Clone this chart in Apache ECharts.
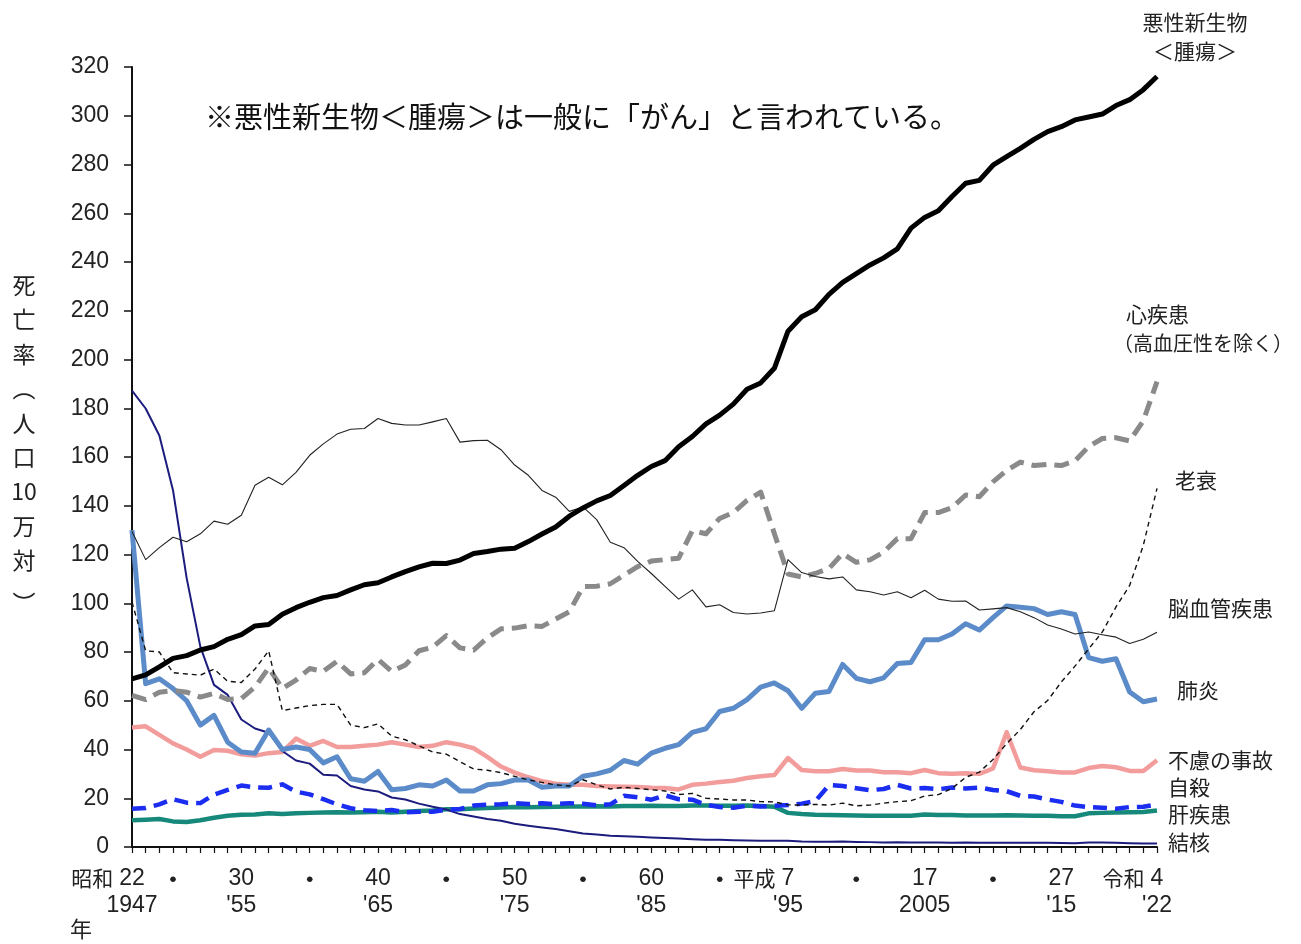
<!DOCTYPE html>
<html>
<head>
<meta charset="utf-8">
<script src="https://cdn.jsdelivr.net/npm/echarts/dist/echarts.min.js"></script>
<style>
html,body{margin:0;padding:0;background:#fff;}
#chart{width:1301px;height:944px;}
</style>
</head>
<body>
<div id="chart"></div>
<script>
// ---- categories ----
const years = [1947,1948,1949,1950,1951,1952,1953,1954,1955,1956,1957,1958,1959,1960,1961,1962,1963,1964,1965,1966,1967,1968,1969,1970,1971,1972,1973,1974,1975,1976,1977,1978,1979,1980,1981,1982,1983,1984,1985,1986,1987,1988,1989,1990,1991,1992,1993,1994,1995,1996,1997,1998,1999,2000,2001,2002,2003,2004,2005,2006,2007,2008,2009,2010,2011,2012,2013,2014,2015,2016,2017,2018,2019,2020,2021,2022];

// ---- tick labels ----
const tickYears   = [1947, 1955, 1965, 1975, 1985, 1995, 2005, 2015, 2022];
const tickEra     = ['昭和', '', '', '', '', '平成', '', '', '令和'];
const tickNum     = ['22', '30', '40', '50', '60', '7', '17', '27', '4'];
const tickWestern = ['1947', "'55", "'65", "'75", "'85", "'95", '2005', "'15", "'22"];
const dotYears    = [1950, 1960, 1970, 1980, 1990, 2000, 2010];

// ---- series values (deaths per 100,000) ----
const malignant = [69.0,70.6,73.9,77.4,78.5,80.8,82.2,85.2,87.1,90.7,91.3,95.5,98.2,100.4,102.3,103.2,105.5,107.6,108.4,110.8,113.0,114.9,116.4,116.3,117.7,120.4,121.2,122.2,122.6,125.3,128.4,131.3,135.7,139.1,142.0,144.2,148.3,152.5,156.1,158.5,164.2,168.4,173.6,177.2,181.7,187.8,190.4,196.4,211.6,217.5,220.4,226.7,231.6,235.2,238.8,241.7,245.4,253.9,258.3,261.0,266.9,272.3,273.5,279.7,283.2,286.6,290.3,293.5,295.5,298.3,299.5,300.7,304.2,306.6,310.7,316.1];

const heart = [62.2,60.5,63.5,64.2,63.5,61.5,63.0,60.5,60.9,65.6,73.5,65.0,68.5,73.2,72.1,76.2,71.0,71.5,77.0,72.0,74.7,80.5,82.0,86.7,81.7,80.8,85.8,89.5,89.8,90.8,90.5,93.5,96.5,106.8,107.0,108.0,111.5,115.0,117.3,117.9,118.5,129.8,128.5,134.8,137.2,142.2,145.6,128.6,112.0,110.8,112.2,114.3,120.4,116.8,117.8,121.0,126.5,126.5,137.2,137.2,139.2,144.4,143.7,149.8,154.5,157.9,156.5,157.0,156.5,158.4,164.3,167.6,167.9,166.6,174.9,190.9];

const senility = [100.5,80.5,80.0,71.5,71.0,70.5,73.0,68.0,67.5,73.0,80.5,56.0,57.0,58.0,58.5,58.5,50.0,49.0,50.5,45.5,44.0,41.5,39.0,38.1,35.0,32.0,31.5,30.5,29.0,27.5,26.5,25.5,25.0,27.6,25.5,23.8,24.5,24.0,23.5,23.0,21.5,22.0,20.0,19.7,19.3,19.3,18.6,18.5,17.3,17.2,17.5,17.2,18.0,16.9,17.2,18.0,18.6,19.0,20.9,21.5,24.0,28.6,30.7,35.9,42.4,48.2,55.5,60.1,67.7,74.2,81.3,88.2,98.5,107.3,123.8,147.1];

const cerebro = [129.4,117.9,122.8,127.1,125.2,128.5,133.7,132.4,136.1,148.4,151.7,148.6,153.7,160.7,165.4,169.4,171.4,171.7,175.8,173.8,173.1,173.1,174.4,175.8,166.1,166.7,166.9,163.0,156.7,152.5,146.3,143.5,137.7,139.5,134.3,125.0,122.8,117.2,112.2,106.9,101.7,105.5,98.5,99.4,96.2,95.6,96.0,96.9,117.9,112.6,111.0,110.0,110.8,105.5,104.7,103.4,104.7,102.3,105.3,101.7,100.8,100.9,97.2,97.7,98.2,96.5,94.1,91.1,89.4,87.4,88.2,87.1,86.1,83.5,85.2,88.1];

const pneumonia = [130.0,67.0,69.0,65.0,60.0,50.0,54.0,43.0,39.0,38.5,48.0,40.0,41.0,40.0,34.5,37.0,28.0,27.0,31.0,23.5,24.0,25.5,25.0,27.5,23.0,23.0,25.5,26.0,27.5,27.5,24.5,25.0,25.0,29.0,30.0,31.5,35.5,34.0,38.5,40.5,42.0,47.0,48.5,55.6,56.9,60.5,65.6,67.3,64.1,56.9,63.1,63.8,74.9,69.2,67.8,69.4,75.3,75.7,85.0,85.0,87.4,91.6,89.0,94.1,98.9,98.4,97.8,95.4,96.5,95.4,77.7,76.2,77.2,63.6,59.6,60.7];

const accidents = [49.0,49.5,46.0,42.5,40.0,37.0,39.8,39.5,38.0,37.5,38.5,39.0,44.5,41.5,43.5,41.0,41.0,41.5,42.0,43.0,42.0,41.0,41.5,43.0,42.0,40.5,37.0,33.0,30.5,28.6,27.0,26.0,25.5,25.5,25.0,24.8,24.7,24.6,24.3,24.2,23.6,25.5,26.0,26.7,27.2,28.3,29.0,29.5,36.5,31.6,31.1,31.1,32.0,31.4,31.4,30.7,30.7,30.3,31.6,30.3,30.1,30.3,30.0,32.2,47.1,32.6,31.5,31.1,30.6,30.6,32.4,33.2,32.7,31.2,31.2,35.6];

const suicide = [15.7,16.0,17.5,19.6,18.2,18.0,21.5,23.4,25.2,24.5,24.3,25.7,22.7,21.6,19.6,17.5,15.9,15.1,14.7,15.2,14.2,14.5,14.5,15.3,15.6,17.0,17.4,17.5,18.0,17.6,17.9,17.6,18.0,17.7,17.1,17.5,21.0,20.4,19.4,21.2,19.6,19.4,17.3,16.4,16.1,16.9,16.6,16.9,17.2,17.8,18.8,25.4,25.0,24.1,23.3,23.8,25.5,24.0,24.2,23.7,24.4,24.0,24.4,23.4,22.9,21.0,20.7,19.5,18.5,17.0,16.4,16.1,15.7,16.4,16.5,17.4];

const liver = [11.0,11.2,11.5,10.5,10.3,11.0,12.0,12.8,13.2,13.3,13.8,13.5,13.8,14.0,14.2,14.3,14.2,14.3,14.5,14.2,14.5,14.8,15.0,15.5,15.5,15.8,16.0,16.2,16.4,16.3,16.4,16.5,16.6,16.6,16.7,16.6,16.8,16.8,16.9,16.8,16.8,17.0,17.0,16.9,16.9,17.0,16.8,16.5,14.0,13.5,13.2,13.1,13.0,12.9,12.8,12.8,12.8,12.8,13.3,13.1,13.1,12.9,12.9,12.9,13.0,12.9,12.8,12.8,12.6,12.6,13.8,14.0,14.2,14.3,14.4,15.0];

const tuberculosis = [187.2,179.9,168.8,146.4,110.3,82.2,66.5,62.4,52.3,48.6,46.9,39.4,35.5,34.2,29.6,29.3,25.0,23.6,22.8,20.3,19.5,17.8,16.5,15.4,13.5,12.5,11.5,10.8,9.5,8.7,8.0,7.4,6.5,5.5,5.1,4.6,4.4,4.2,3.9,3.7,3.5,3.2,3.0,3.0,2.8,2.7,2.6,2.6,2.6,2.3,2.2,2.2,2.3,2.1,2.0,1.8,1.9,1.8,1.8,1.8,1.7,1.8,1.7,1.7,1.7,1.7,1.7,1.7,1.6,1.5,1.8,1.8,1.7,1.5,1.4,1.4];

// ---- text ----
const noteText = '※悪性新生物＜腫瘍＞は一般に「がん」と言われている。';
const yNameChars = ['死','亡','率','︵','人','口','10','万','対'];

const JP = "'Noto Sans CJK JP','Noto Sans',sans-serif";
const NUM = "'Liberation Sans Narrow','Liberation Sans',Arial,sans-serif";
const NUM_SIZE = 23;
const LABEL_MARGIN = 18;
const ROW_H = 27;

const chart = echarts.init(document.getElementById('chart'), null, {renderer: 'canvas'});

function labelFormatter(value) {
  const y = Number(value);
  const i = tickYears.indexOf(y);
  if (i >= 0) return '{n|' + tickNum[i] + '}\n{n|' + tickWestern[i] + '}';
  if (dotYears.indexOf(y) >= 0) return '{dot|・}';
  return '';
}

function line(name, data, color, width, type, z) {
  return {
    name: name, type: 'line', data: data, symbol: 'none', smooth: false,
    z: z || 2,
    lineStyle: {color: color, width: width, type: type || 'solid', cap: 'butt', join: 'round'},
    emphasis: {disabled: true}
  };
}

const baseGraphic = [
  {type: 'text', left: 205, top: 102, style: {text: noteText, font: '29px ' + JP, fill: '#111'}},
  {type: 'text', x: 24, y: 268, style: {text: yNameChars.join('\n'), font: '23px ' + JP, fill: '#222', textAlign: 'center', lineHeight: 34.4}},
  {type: 'text', x: 24, y: 592, style: {text: '︶', font: '23px ' + JP, fill: '#222', textAlign: 'center'}},
  {type: 'text', x: 70, y: 918, style: {text: '年', font: '22px ' + JP, fill: '#222'}},
  {type: 'text', x: 1195, y: 8, style: {text: '悪性新生物\n＜腫瘍＞', font: '21px ' + JP, fill: '#222', textAlign: 'center', lineHeight: 29}},
  {type: 'text', x: 1126, y: 304, style: {text: '心疾患', font: '21px ' + JP, fill: '#222'}},
  {type: 'text', x: 1113, y: 333, style: {text: '（高血圧性を除く）', font: '20px ' + JP, fill: '#222'}},
  {type: 'text', x: 1175, y: 470, style: {text: '老衰', font: '21px ' + JP, fill: '#222'}},
  {type: 'text', x: 1168, y: 598, style: {text: '脳血管疾患', font: '21px ' + JP, fill: '#222'}},
  {type: 'text', x: 1177, y: 680, style: {text: '肺炎', font: '21px ' + JP, fill: '#222'}},
  {type: 'text', x: 1168, y: 750, style: {text: '不慮の事故', font: '21px ' + JP, fill: '#222'}},
  {type: 'text', x: 1168, y: 777, style: {text: '自殺', font: '21px ' + JP, fill: '#222'}},
  {type: 'text', x: 1168, y: 804, style: {text: '肝疾患', font: '21px ' + JP, fill: '#222'}},
  {type: 'text', x: 1168, y: 832, style: {text: '結核', font: '21px ' + JP, fill: '#222'}}
];

const option = {
  animation: false,
  backgroundColor: '#ffffff',
  grid: {left: 132, right: 144, top: 67, bottom: 97},
  xAxis: {
    type: 'category',
    data: years.map(String),
    boundaryGap: false,
    axisLine: {lineStyle: {color: '#111', width: 2}},
    axisTick: {show: true, interval: 0, length: 6, inside: false, lineStyle: {color: '#111', width: 1.2}},
    axisLabel: {
      interval: function (idx, val) { const y = Number(val); return tickYears.indexOf(y) >= 0 || dotYears.indexOf(y) >= 0; },
      showMinLabel: true,
      showMaxLabel: true,
      hideOverlap: false,
      margin: LABEL_MARGIN,
      formatter: labelFormatter,
      color: '#222',
      verticalAlign: 'top',
      rich: {
        n: {fontFamily: NUM, fontSize: NUM_SIZE, color: '#222', lineHeight: ROW_H},
        dot: {fontFamily: JP, fontSize: 22, color: '#222', lineHeight: ROW_H, fontWeight: 'bold'}
      }
    },
    splitLine: {show: false}
  },
  yAxis: {
    type: 'value',
    min: 0, max: 320, interval: 20,
    axisLine: {show: true, lineStyle: {color: '#111', width: 2}},
    axisTick: {show: true, length: 8, lineStyle: {color: '#111', width: 1.5}},
    axisLabel: {fontFamily: NUM, fontSize: NUM_SIZE, color: '#222', margin: 23},
    splitLine: {show: false}
  },
  series: [
    line('結核', tuberculosis, '#1c1c7e', 2, 'solid', 3),
    line('肝疾患', liver, '#17897a', 4.5, 'solid', 2),
    line('自殺', suicide, '#1a2df0', 4.5, [14, 8], 3),
    line('不慮の事故', accidents, '#f39c9c', 4.5, 'solid', 2),
    line('肺炎', pneumonia, '#5b8bc8', 5, 'solid', 3),
    line('脳血管疾患', cerebro, '#222222', 1.1, 'solid', 4),
    line('老衰', senility, '#111111', 1.4, [5, 4], 4),
    line('心疾患', heart, '#8a8a8a', 5, [15, 8], 3),
    line('悪性新生物', malignant, '#000000', 5, 'solid', 5)
  ],
  graphic: baseGraphic
};

chart.setOption(option);

// Era prefixes (昭和 / 平成 / 令和) placed to the left of their tick numbers, using the axis scale
const ctx = document.createElement('canvas').getContext('2d');
ctx.font = NUM_SIZE + 'px ' + NUM;
const axisY = chart.convertToPixel({yAxisIndex: 0}, 0);
const eraGraphic = [];
tickYears.forEach(function (y, i) {
  if (!tickEra[i]) return;
  const x = chart.convertToPixel({xAxisIndex: 0}, String(y));
  const half = ctx.measureText(tickNum[i]).width / 2;
  eraGraphic.push({
    type: 'text', x: x - half - 6, y: axisY + LABEL_MARGIN + ROW_H / 2,
    style: {text: tickEra[i], font: '21px ' + JP, fill: '#222', textAlign: 'right', textVerticalAlign: 'middle'}
  });
});
chart.setOption({graphic: baseGraphic.concat(eraGraphic)});
</script>
</body>
</html>
